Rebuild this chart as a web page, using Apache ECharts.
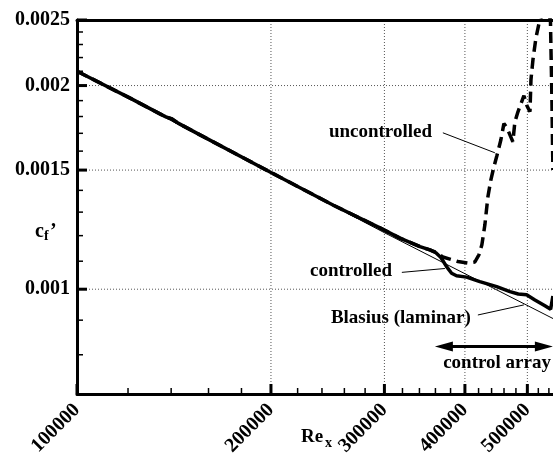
<!DOCTYPE html>
<html><head><meta charset="utf-8">
<script src="https://cdn.jsdelivr.net/npm/echarts@6/dist/echarts.min.js"></script>
<style>html,body{margin:0;padding:0;background:#fff}#c{width:553px;height:454px}</style>
</head><body><div id="c"></div>
<script>
// ---- tick values ----
const reMajorTicks = [100000, 200000, 300000, 400000, 500000];
const reMinorTicks = [120000,140000,160000,180000,220000,240000,260000,280000,320000,340000,360000,380000,420000,440000,460000,480000,520000,540000];
const cfMajorTicks = [0.001, 0.0015, 0.002, 0.0025];
const cfMinorTicks = [0.0007,0.0008,0.0009,0.0011,0.0012,0.0013,0.0014,0.0016,0.0017,0.0018,0.0019,0.0021,0.0022,0.0023,0.0024];
const reGridLines = [200000, 300000, 400000, 500000];
const cfGridLines = [0.001, 0.0015, 0.002];

// ---- series values ----
const controlledRe = [100000,120900,134500,137400,140400,143500,155200,200000,250000,295200,317100,340600,352900,360600,367100,374600,381400,388200,402400,421900,448100,469800,484000,498700,513700,532400,543400,547800];
const controlledCf = [0.00210,0.001916,0.001816,0.001798,0.001785,0.001760,0.001691,0.001488,0.001331,0.001232,0.001190,0.001156,0.001143,0.001132,0.001114,0.001080,0.001056,0.001047,0.001042,0.001026,0.001009,0.000992,0.000984,0.000981,0.000964,0.000945,0.000934,0.000977];

const uncontrolledRe = [100000,120900,134500,137400,140400,143500,155200,200000,250000,295200,317100,340600,352900,360600,369700,379100,390100,404200,414500,420500,425000,429600,434200,438900,443600,448400,454900,459800,464700,469800,474800,478200,483500,488700,493900,499300,504700,506500,510100,515600,521100,526800,536300,543000,545900,547800];
const uncontrolledCf = [0.00210,0.001916,0.001816,0.001798,0.001785,0.001760,0.001691,0.001488,0.001331,0.001232,0.001190,0.001156,0.001143,0.001134,0.001116,0.001108,0.001099,0.001093,0.001097,0.001124,0.001163,0.001245,0.001369,0.001451,0.001516,0.001575,0.001663,0.001757,0.001733,0.001691,0.001652,0.001768,0.001829,0.001880,0.001932,0.001867,0.001829,0.002040,0.002183,0.002353,0.002469,0.002546,0.002589,0.002503,0.001905,0.001501];

const blasiusRe = [100000, 300000, 548000];
const blasiusCf = [0.00210, 0.001212, 0.000905];

// ---- annotations (data coordinates) ----
const annUncText = [246000, 0.001709];
const annUncLine = [[369700, 0.001703], [445200, 0.001591]];
const annCtrlText = [308200, 0.001064];
const annCtrlLine = [[319300, 0.001059], [372400, 0.001073]];
const annBlasText = [247800, 0.000907];
const annBlasLine = [[418960, 0.000916], [493900, 0.000948]];
const annArrow = [[359300, 0.0008225], [547800, 0.0008225]];
const annArrayText = [370100, 0.000778];

const FONT = '"Liberation Serif", "Times New Roman", serif';
const zip = (a, b) => a.map((v, i) => [v, b[i]]);
const reMin = 100000, reMax = 548000, cfMin = 0.0007, cfMax = 0.0025;

const chart = echarts.init(document.getElementById('c'), null, {renderer: 'canvas'});

const labelFont = {fontFamily: FONT, fontSize: 20, fontWeight: 'bold', color: '#000'};

function tickSeries(values, onX, len, width) {
  return {
    type: 'custom', xAxisIndex: 0, yAxisIndex: 0, silent: true, clip: false, z: 10,
    data: values.map(v => onX ? [v, cfMin] : [reMin, v]),
    renderItem: function (params, api) {
      const p = api.coord([api.value(0), api.value(1)]);
      const shape = onX ? {x1: p[0], y1: p[1], x2: p[0], y2: p[1] - len}
                        : {x1: p[0], y1: p[1], x2: p[0] + len, y2: p[1]};
      return {type: 'line', shape: shape, style: {stroke: '#000', lineWidth: width}};
    }
  };
}
function gridSeries(values, onX) {
  return {
    type: 'custom', xAxisIndex: 0, yAxisIndex: 0, silent: true, clip: false, z: 1,
    data: values.map(v => onX ? [v, cfMin] : [reMin, v]),
    renderItem: function (params, api) {
      const p = api.coord([api.value(0), api.value(1)]);
      const q = onX ? api.coord([api.value(0), cfMax]) : api.coord([reMax, api.value(1)]);
      return {type: 'line', shape: {x1: p[0], y1: p[1], x2: q[0], y2: q[1]},
              style: {stroke: '#555', lineWidth: 1, lineDash: [1, 2]}};
    }
  };
}

chart.setOption({
  animation: false,
  backgroundColor: '#fff',
  grid: {left: 77, top: 20, right: 0, bottom: 60, containLabel: false, outerBoundsMode: 'none'},
  xAxis: [
    {
      type: 'log', logBase: 10, min: reMin, max: reMax, position: 'bottom', z: 5,
      axisLine: {show: true, onZero: false, lineStyle: {color: '#000', width: 3}},
      axisTick: {show: false},
      axisLabel: Object.assign({show: true, rotate: 45, margin: 13, customValues: reMajorTicks,
        formatter: v => String(Math.round(v))}, labelFont),
      splitLine: {show: false}, minorTick: {show: false}, minorSplitLine: {show: false}
    },
    {
      type: 'log', logBase: 10, min: reMin, max: reMax, position: 'top', z: 5,
      axisLine: {show: true, onZero: false, lineStyle: {color: '#000', width: 3}},
      axisTick: {show: false}, axisLabel: {show: false}, splitLine: {show: false}
    }
  ],
  yAxis: [
    {
      type: 'log', logBase: 10, min: cfMin, max: cfMax, position: 'left', z: 5,
      axisLine: {show: true, onZero: false, lineStyle: {color: '#000', width: 3}},
      axisTick: {show: false},
      axisLabel: Object.assign({show: true, margin: 7, customValues: cfMajorTicks,
        formatter: v => String(parseFloat(v.toPrecision(6)))}, labelFont),
      splitLine: {show: false}, minorTick: {show: false}, minorSplitLine: {show: false}
    }
  ],
  series: [
    gridSeries(reGridLines, true),
    gridSeries(cfGridLines, false),
    {name: 'uncontrolled', type: 'line', xAxisIndex: 0, yAxisIndex: 0, data: zip(uncontrolledRe, uncontrolledCf),
     showSymbol: false, symbol: 'none', clip: true, z: 3,
     lineStyle: {color: '#000', width: 3.5, type: [11, 6]}},
    {name: 'Blasius (laminar)', type: 'line', xAxisIndex: 0, yAxisIndex: 0, data: zip(blasiusRe, blasiusCf),
     showSymbol: false, symbol: 'none', clip: true, z: 4,
     lineStyle: {color: '#000', width: 1}},
    {name: 'controlled', type: 'line', xAxisIndex: 0, yAxisIndex: 0, data: zip(controlledRe, controlledCf),
     showSymbol: false, symbol: 'none', clip: true, z: 5,
     lineStyle: {color: '#000', width: 3.5}},
    tickSeries(reMajorTicks, true, 10, 3),
    tickSeries(reMinorTicks, true, 6, 1.5),
    tickSeries(cfMajorTicks, false, 10, 3),
    tickSeries(cfMinorTicks, false, 6, 1.5)
  ]
});

const px = p => chart.convertToPixel({xAxisIndex: 0, yAxisIndex: 0}, p);
const txtStyle = (text, align) => ({text, font: 'bold 19px ' + FONT, fill: '#000', textAlign: align, textVerticalAlign: 'middle'});
const g = [];
function addText(p, text, align) {
  const q = px(p);
  g.push({type: 'text', x: q[0], y: q[1], z: 100, style: txtStyle(text, align)});
}
function addLine(a, b, w) {
  const p1 = px(a), p2 = px(b);
  g.push({type: 'line', z: 100, shape: {x1: p1[0], y1: p1[1], x2: p2[0], y2: p2[1]}, style: {stroke: '#000', lineWidth: w}});
}
addText(annUncText, 'uncontrolled', 'left');
addLine(annUncLine[0], annUncLine[1], 1);
addText(annCtrlText, 'controlled', 'right');
addLine(annCtrlLine[0], annCtrlLine[1], 1);
addText(annBlasText, 'Blasius (laminar)', 'left');
addLine(annBlasLine[0], annBlasLine[1], 1);
addText(annArrayText, 'control array', 'left');
// double-headed arrow
(function () {
  const a = px(annArrow[0]), b = px(annArrow[1]);
  const L = 18, W = 5;
  g.push({type: 'line', z: 100, shape: {x1: a[0] + L - 2, y1: a[1], x2: b[0] - L + 2, y2: b[1]}, style: {stroke: '#000', lineWidth: 3}});
  g.push({type: 'polygon', z: 100, shape: {points: [[a[0], a[1]], [a[0] + L, a[1] - W], [a[0] + L, a[1] + W]]}, style: {fill: '#000'}});
  g.push({type: 'polygon', z: 100, shape: {points: [[b[0], b[1]], [b[0] - L, b[1] - W], [b[0] - L, b[1] + W]]}, style: {fill: '#000'}});
})();
// axis titles
g.push({type: 'text', x: 35, y: 222, z: 100, style: {text: 'c', font: 'bold 20px ' + FONT, fill: '#000', textAlign: 'left', textVerticalAlign: 'alphabetic'}});
g.push({type: 'text', x: 44, y: 229, z: 100, style: {text: 'f', font: 'bold 14px ' + FONT, fill: '#000', textAlign: 'left', textVerticalAlign: 'alphabetic'}});
g.push({type: 'text', x: 50, y: 222, z: 100, style: {text: '\u2019', font: 'bold 20px ' + FONT, fill: '#000', textAlign: 'left', textVerticalAlign: 'alphabetic'}});
g.push({type: 'text', x: 301, y: 428, z: 100, style: {text: 'Re', font: 'bold 19px ' + FONT, fill: '#000', textAlign: 'left', textVerticalAlign: 'alphabetic'}});
g.push({type: 'text', x: 325, y: 436, z: 100, style: {text: 'x', font: 'bold 14px ' + FONT, fill: '#000', textAlign: 'left', textVerticalAlign: 'alphabetic'}});
chart.setOption({graphic: g});
</script></body></html>
